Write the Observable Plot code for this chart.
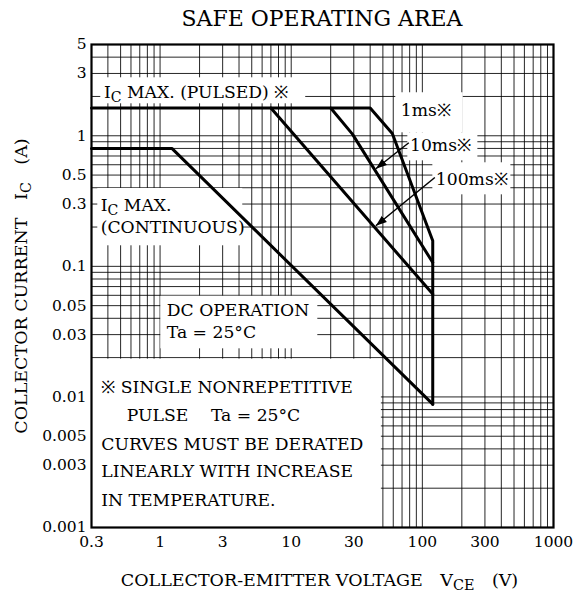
<!DOCTYPE html>
<html><head><meta charset="utf-8">
<script src="https://cdn.jsdelivr.net/npm/d3@7"></script>
<script src="https://cdn.jsdelivr.net/npm/@observablehq/plot@0.6"></script>
<style>
body{margin:0;background:#fff;}
#title{height:36px;line-height:38px;font-family:"DejaVu Serif",serif;font-size:22px;text-align:center;width:582px;padding-left:62px;box-sizing:border-box;color:#000;}
</style></head><body>
<div id="title">SAFE OPERATING AREA</div>
<div id="chart"></div>
<script>
// ---- data ----
const xTicks = [0.3, 1, 3, 10, 30, 100, 300, 1000];
const yTicks = [0.001, 0.003, 0.005, 0.01, 0.03, 0.05, 0.1, 0.3, 0.5, 1, 3, 5];

const vce1ms = [0.3, 40, 59, 120, 120];
const ic1ms = [1.63, 1.63, 1.04, 0.157, 0.0088];
const vce10ms = [20, 29.3, 120];
const ic10ms = [1.63, 1.03, 0.107];
const vce100ms = [7, 120];
const ic100ms = [1.63, 0.0613];
const vceDC = [0.3, 1.23, 120];
const icDC = [0.8, 0.8, 0.0088];

const labelText = [
  "I{C} MAX. (PULSED) ※", "1ms※", "10ms※", "100ms※",
  "I{C} MAX.", "(CONTINUOUS)", "DC OPERATION", "Ta = 25°C",
  "※ SINGLE NONREPETITIVE", "PULSE\u2003 Ta = 25°C", "CURVES MUST BE DERATED",
  "LINEARLY WITH INCREASE", "IN TEMPERATURE."
];
const labelX = [0.373, 68.5, 80.5, 126.6, 0.353, 0.353, 1.125, 1.125, 0.356, 0.5576, 0.356, 0.356, 0.356];
const labelY = [2.154, 1.554, 0.838, 0.460, 0.291, 0.1985, 0.0463, 0.0311, 0.01181, 0.00717, 0.004353, 0.002672, 0.001622];

// white label backgrounds (data units)
const boxX1 = [0.353, 62.7, 77.5, 120.2, 0.335, 1.013];
const boxX2 = [12.9, 205, 265, 473, 4.27, 15.95];
const boxY1 = [1.757, 1.054, 0.643, 0.353, 0.1437, 0.02336];
const boxY2 = [2.78, 2.135, 1.054, 0.621, 0.395, 0.059];
const noteBox = [{x1: 0.3, x2: 50, y1: 0.001, y2: 0.02}];

// arrows (10ms, 100ms)
const arrowX1 = [78.8, 124.5];
const arrowY1 = [0.884, 0.479];
const arrowX2 = [44.2, 44.2];
const arrowY2 = [0.559, 0.2045];

// ---- build ----
const gridX = [];
for (const d of [0.1, 1, 10, 100]) for (let k = 1; k <= 9; k++) { const v = +(k * d).toPrecision(3); if (v > 0.3 && v < 1000) gridX.push(v); }
const gridY = [];
for (const d of [0.001, 0.01, 0.1, 1]) for (let k = 1; k <= 9; k++) { const v = +(k * d).toPrecision(3); if (v > 0.001 && v < 5) gridY.push(v); }

const curves = [
  {name: "1ms", vce: vce1ms, ic: ic1ms},
  {name: "10ms", vce: vce10ms, ic: ic10ms},
  {name: "100ms", vce: vce100ms, ic: ic100ms},
  {name: "DC", vce: vceDC, ic: icDC}
];
const rows = curves.flatMap(c => c.vce.map((v, i) => ({curve: c.name, vce: v, ic: c.ic[i]})));
const labels = labelText.map((t, i) => ({t, x: labelX[i], y: labelY[i]}));
const boxes = boxX1.map((d, i) => ({x1: d, x2: boxX2[i], y1: boxY1[i], y2: boxY2[i]}));
const arrows = arrowX1.map((d, i) => ({x1: d, y1: arrowY1[i], x2: arrowX2[i], y2: arrowY2[i]}));

function filledArrow(color) {
  const ns = "http://www.w3.org/2000/svg";
  const m = document.createElementNS(ns, "marker");
  m.setAttribute("viewBox", "-11 -5 12 10");
  m.setAttribute("markerWidth", 12);
  m.setAttribute("markerHeight", 10);
  m.setAttribute("markerUnits", "userSpaceOnUse");
  m.setAttribute("orient", "auto");
  m.setAttribute("fill", color);
  m.setAttribute("stroke", "none");
  const p = document.createElementNS(ns, "path");
  p.setAttribute("d", "M-11,-4L0,0L-11,4Z");
  m.appendChild(p);
  return m;
}

const F = "'DejaVu Serif', serif";
const build = (marker) => Plot.plot({
  width: 582, height: 557,
  marginTop: 8, marginBottom: 66, marginLeft: 91, marginRight: 29,
  style: {fontFamily: F, fontSize: "15px", color: "#000", background: "#fff", overflow: "visible"},
  x: {type: "log", domain: [0.3, 1000], axis: null},
  y: {type: "log", domain: [0.001, 5], axis: null},
  marks: [
    Plot.ruleX(gridX, {stroke: "#000", strokeWidth: 1, strokeOpacity: 0.85}),
    Plot.ruleY(gridY, {stroke: "#000", strokeWidth: 1, strokeOpacity: 0.85}),
    Plot.rect(boxes, {x1: "x1", x2: "x2", y1: "y1", y2: "y2", fill: "#fff"}),
    Plot.rect(noteBox, {x1: "x1", x2: "x2", y1: "y1", y2: "y2", fill: "#fff", insetTop: 1.5, insetRight: 1.5}),
    Plot.line(rows, {x: "vce", y: "ic", z: "curve", stroke: "#000", strokeWidth: 3}),
    Plot.frame({stroke: "#000", strokeWidth: 2.2}),
    Plot.text(xTicks, {x: d => d, frameAnchor: "bottom", dy: 15, text: d => String(d), textAnchor: "middle", lineAnchor: "middle", fontSize: 15.5, fill: "#000"}),
    Plot.text(yTicks, {y: d => d, frameAnchor: "left", dx: -5, text: d => String(d), textAnchor: "end", lineAnchor: "middle", fontSize: 15.5, fill: "#000"}),
    Plot.text(labels, {x: "x", y: "y", text: "t", textAnchor: "start", lineAnchor: "middle", fontSize: 17.2, fill: "#000"}),
    Plot.link(arrows, {x1: "x1", y1: "y1", x2: "x2", y2: "y2", stroke: "#000", strokeWidth: 1.5, markerEnd: marker}),
    Plot.text(["COLLECTOR-EMITTER VOLTAGE\u2003V{CE}\u2003(V)"], {frameAnchor: "bottom", dy: 53, dx: -3, textAnchor: "middle", lineAnchor: "middle", fontSize: 17.5, fill: "#000"}),
    Plot.text(["COLLECTOR CURRENT\u2003I{C}\u2003(A)"], {frameAnchor: "left", dx: -70, rotate: -90, textAnchor: "middle", lineAnchor: "middle", fontSize: 17.5, fill: "#000"})
  ]
});

let chart;
try { chart = build(filledArrow); } catch (e) { chart = build("arrow"); }

function applySubs(root) {
  const ns = "http://www.w3.org/2000/svg";
  root.querySelectorAll("text, tspan").forEach(el => {
    if (el.childElementCount) return;
    const t = el.textContent;
    if (!t.includes("{")) return;
    el.textContent = "";
    let prevSub = false;
    t.split(/(\{[^}]*\})/).forEach(p => {
      if (!p) return;
      const s = document.createElementNS(ns, "tspan");
      if (p[0] === "{") {
        s.textContent = p.slice(1, -1);
        s.style.fontSize = "82%";
        s.setAttribute("dy", "4");
        prevSub = true;
      } else {
        s.textContent = p;
        if (prevSub) s.setAttribute("dy", "-4");
        prevSub = false;
      }
      el.appendChild(s);
    });
  });
}
applySubs(chart);
document.getElementById("chart").appendChild(chart);
</script>
</body></html>
